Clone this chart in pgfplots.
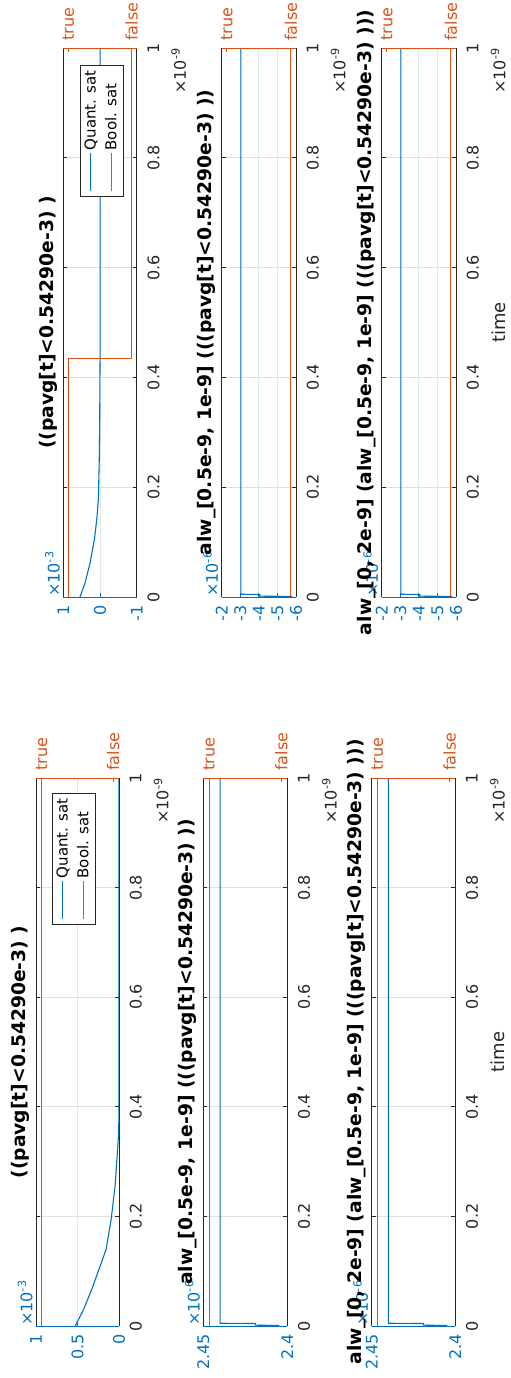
\documentclass[border=0pt]{standalone}
\usepackage{fontspec}
\setmainfont{DejaVu Sans}
\usepackage{pgfplots}
\pgfplotsset{compat=1.18}
\definecolor{mblue}{RGB}{0,114,189}
\definecolor{morange}{RGB}{217,83,25}
\definecolor{mgray}{RGB}{38,38,38}
\definecolor{gridgray}{RGB}{223,223,223}
\definecolor{gridblue}{RGB}{217,234,245}
\newcommand{\tickfont}{\fontsize{16}{19}\selectfont}
\newcommand{\titlefont}{\fontsize{18.7}{22}\selectfont\bfseries}
\newcommand{\legbox}{{\renewcommand{\arraystretch}{1.15}%
  \begin{tabular}{@{}l@{\hspace{3pt}}l@{}}
  \textcolor{mblue}{\rule[0.3em]{38pt}{1.1pt}} & Quant. sat\\
  \textcolor{morange}{\rule[0.3em]{38pt}{1.1pt}} & Bool. sat
  \end{tabular}}}
\pgfplotsset{
  mainax/.style={
    scale only axis,
    anchor=south west,
    ymin=0, ymax=1,
    ytick={0,0.2,0.4,0.6,0.8,1},
    yticklabels={0,0.2,0.4,0.6,0.8,1},
    x dir=reverse,
    axis x line*=bottom,
    axis y line*=box,
    x axis line style={draw=mblue, line width=0.8pt},
    y axis line style={draw=mgray, line width=0.8pt},
    tick align=inside,
    major tick length=4pt,
    xtick style={draw=mblue, line width=0.8pt},
    ytick style={draw=mgray, line width=0.8pt},
    grid=major,
    x grid style={draw=gridblue, line width=0.8pt},
    y grid style={draw=gridgray, line width=0.8pt},
    scaled ticks=false,
    /pgf/number format/assume math mode=true,
    tick label style={font=\tickfont},
    xticklabel style={rotate=90, anchor=east, inner sep=0pt, inner xsep=8pt, text=mblue},
    yticklabel pos=right,
    yticklabel style={rotate=90, anchor=north, inner sep=0pt, inner ysep=10.5pt, text=mgray},
  },
  boolax/.style={
    scale only axis, anchor=south west,
    ymin=0, ymax=1, xmin=-0.08, xmax=1.08,
    axis x line*=top, axis y line=none,
    x axis line style={draw=morange, line width=0.8pt},
    xtick={0,1}, xticklabels={true,false},
    tick align=inside, major tick length=4pt,
    xtick style={draw=morange, line width=0.8pt},
    xticklabel style={font=\tickfont, rotate=90, anchor=west, inner sep=0pt, inner xsep=7pt, text=morange},
  },
}
\begin{document}
\begin{tikzpicture}
\path[use as bounding box] (0pt,0pt) rectangle (511pt,1378pt);
% ---------------- Top half (right column of original) ----------------
\begin{axis}[mainax, name=T1, at={(63.3pt,781pt)}, width=73.4pt, height=549pt,
  xmin=-1, xmax=1, xtick={-1,0,1}, xticklabels={-1,0,1}]
\addplot[mblue, line width=1.1pt] coordinates {(0.545,0) (0.41,0.025) (0.27,0.062) (0.155,0.104) (0.09,0.14) (0.045,0.177) (0.02,0.25) (0.008,0.32) (0.002,0.4) (-0.003,0.44) (-0.003,1)};
\end{axis}
\begin{axis}[boolax, at={(63.3pt,781pt)}, width=73.4pt, height=549pt]
\addplot[morange, line width=1.1pt] coordinates {(0,0) (0,0.435) (1,0.435) (1,1)};
\end{axis}
\begin{axis}[mainax, name=T2, at={(221.7pt,781pt)}, width=74.3pt, height=549pt,
  xmin=-6, xmax=-2, xtick={-6,-5,-4,-3,-2}, xticklabels={-6,-5,-4,-3,-2}]
\addplot[mblue, line width=1.1pt] coordinates {(-5.78,0) (-5.78,0.001) (-4.05,0.0015) (-4.05,0.0045) (-3.03,0.005) (-3.03,1)};
\end{axis}
\begin{axis}[boolax, at={(221.7pt,781pt)}, width=74.3pt, height=549pt]
\addplot[morange, line width=1.1pt] coordinates {(1,0) (1,1)};
\end{axis}
\begin{axis}[mainax, name=T3, at={(381.7pt,781pt)}, width=74.3pt, height=549pt,
  xmin=-6, xmax=-2, xtick={-6,-5,-4,-3,-2}, xticklabels={-6,-5,-4,-3,-2}]
\addplot[mblue, line width=1.1pt] coordinates {(-5.78,0) (-5.78,0.001) (-4.05,0.0015) (-4.05,0.0045) (-3.03,0.005) (-3.03,1)};
\end{axis}
\begin{axis}[boolax, at={(381.7pt,781pt)}, width=74.3pt, height=549pt]
\addplot[morange, line width=1.1pt] coordinates {(1,0) (1,1)};
\end{axis}
% ---------------- Bottom half (left column of original) ----------------
\begin{axis}[mainax, name=B1, at={(36pt,52pt)}, width=83pt, height=548pt,
  xmin=0, xmax=1, xtick={0,0.5,1}, xticklabels={0,0.5,1}]
\addplot[mblue, line width=1.1pt] coordinates {(0.528,0) (0.43,0.029) (0.33,0.066) (0.23,0.108) (0.157,0.139) (0.096,0.193) (0.048,0.254) (0.02,0.315) (0.005,0.35) (0.0024,0.37) (0.0024,1)};
\end{axis}
\begin{axis}[boolax, at={(36pt,52pt)}, width=83pt, height=548pt]
\addplot[morange, line width=1.1pt] coordinates {(0,0) (0,1)};
\end{axis}
\begin{axis}[mainax, name=B2, at={(203.3pt,52pt)}, width=84pt, height=548pt,
  xmin=2.4, xmax=2.45, xtick={2.4,2.45}, xticklabels={2.4,2.45}]
\addplot[mblue, line width=1.1pt] coordinates {(2.405,0) (2.405,0.001) (2.419,0.0015) (2.419,0.0045) (2.44,0.005) (2.44,1)};
\end{axis}
\begin{axis}[boolax, at={(203.3pt,52pt)}, width=84pt, height=548pt]
\addplot[morange, line width=1.1pt] coordinates {(0,0) (0,1)};
\end{axis}
\begin{axis}[mainax, name=B3, at={(371.7pt,52pt)}, width=83.6pt, height=548pt,
  xmin=2.4, xmax=2.45, xtick={2.4,2.45}, xticklabels={2.4,2.45}]
\addplot[mblue, line width=1.1pt] coordinates {(2.405,0) (2.405,0.001) (2.419,0.0015) (2.419,0.0045) (2.44,0.005) (2.44,1)};
\end{axis}
\begin{axis}[boolax, at={(371.7pt,52pt)}, width=83.6pt, height=548pt]
\addplot[morange, line width=1.1pt] coordinates {(0,0) (0,1)};
\end{axis}
% ---------------- legends ----------------
\node[rotate=90, anchor=north east, draw=mgray, line width=0.8pt, fill=white, inner xsep=5pt, inner ysep=0.8pt, font=\fontsize{15}{18}\selectfont, text=black] at ([xshift=16.7pt, yshift=-17pt]T1.north west) {\legbox};
\node[rotate=90, anchor=north east, draw=mgray, line width=0.8pt, fill=white, inner xsep=5pt, inner ysep=0.8pt, font=\fontsize{15}{18}\selectfont, text=black] at ([xshift=16pt, yshift=-15pt]B1.north west) {\legbox};
% ---------------- exponent labels ----------------
\foreach \A in {T1,T2,T3,B1,B2,B3}{
  \node[rotate=90, anchor=north east, inner sep=0pt, font=\tickfont, text=mgray] at ([xshift=34.5pt]\A.north east) {×10\textsuperscript{-9}};
}
\node[rotate=90, anchor=south west, inner sep=0pt, font=\tickfont, text=mblue] at ([xshift=-3.3pt]T1.south west) {×10\textsuperscript{-3}};
\node[rotate=90, anchor=south west, inner sep=0pt, font=\tickfont, text=mblue] at ([xshift=-3.3pt]T2.south west) {×10\textsuperscript{-6}};
\node[rotate=90, anchor=south west, inner sep=0pt, font=\tickfont, text=mblue] at ([xshift=-3.3pt]T3.south west) {×10\textsuperscript{-6}};
\node[rotate=90, anchor=south west, inner sep=0pt, font=\tickfont, text=mblue] at ([xshift=-3.3pt]B1.south west) {×10\textsuperscript{-3}};
\node[rotate=90, anchor=south west, inner sep=0pt, font=\tickfont, text=mblue] at ([xshift=-3.3pt]B2.south west) {×10\textsuperscript{-6}};
\node[rotate=90, anchor=south west, inner sep=0pt, font=\tickfont, text=mblue] at ([xshift=-3.3pt]B3.south west) {×10\textsuperscript{-6}};
% ---------------- titles ----------------
\node[rotate=90, anchor=south, inner sep=0pt, font=\titlefont] at ([xshift=-5.7pt]T1.west) {((pavg[t]<0.54290e-3) )};
\node[rotate=90, anchor=south, inner sep=0pt, font=\titlefont] at ([xshift=-5.7pt]T2.west) {alw\_[0.5e-9, 1e-9] (((pavg[t]<0.54290e-3) ))};
\node[rotate=90, anchor=south, inner sep=0pt, font=\titlefont] at ([xshift=-5.7pt]T3.west) {alw\_[0, 2e-9] (alw\_[0.5e-9, 1e-9] (((pavg[t]<0.54290e-3) )))};
\node[rotate=90, anchor=south, inner sep=0pt, font=\titlefont] at ([xshift=-6pt]B1.west) {((pavg[t]<0.54290e-3) )};
\node[rotate=90, anchor=south, inner sep=0pt, font=\titlefont] at ([xshift=-6pt]B2.west) {alw\_[0.5e-9, 1e-9] (((pavg[t]<0.54290e-3) ))};
\node[rotate=90, anchor=south, inner sep=0pt, font=\titlefont] at ([xshift=-6pt]B3.west) {alw\_[0, 2e-9] (alw\_[0.5e-9, 1e-9] (((pavg[t]<0.54290e-3) )))};
% ---------------- x labels ----------------
\node[rotate=90, anchor=north, inner sep=0pt, font=\fontsize{18}{21}\selectfont, text=mgray] at ([xshift=35.8pt]T3.east) {time};
\node[rotate=90, anchor=north, inner sep=0pt, font=\fontsize{18}{21}\selectfont, text=mgray] at ([xshift=35.8pt]B3.east) {time};
\end{tikzpicture}
\end{document}
